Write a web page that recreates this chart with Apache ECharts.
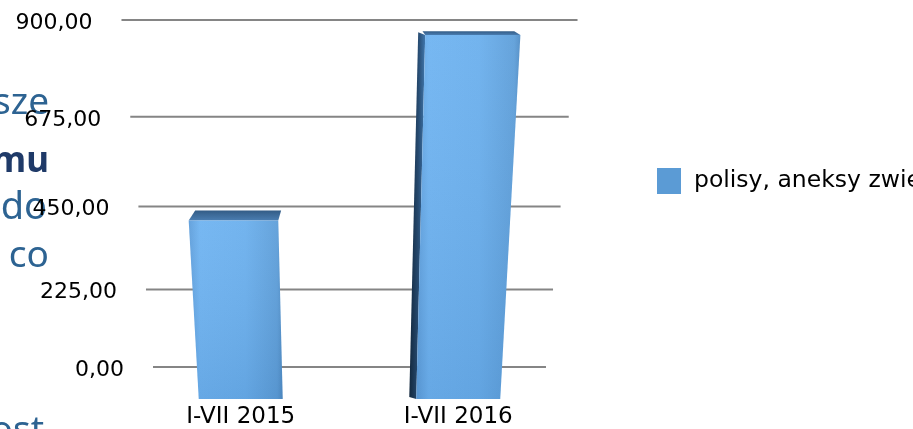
<!DOCTYPE html>
<html><head><meta charset="utf-8">
<script src="https://cdn.jsdelivr.net/npm/echarts@6/dist/echarts.min.js"></script>
<style>html,body{margin:0;padding:0;background:#fff}#c{width:913px;height:429px}</style>
</head><body><div id="c"></div>
<script>
// ---- data ----
const categories = ['I-VII 2015', 'I-VII 2016'];
const seriesName = 'polisy, aneksy zwiększające';
const values = [470, 885];
const yTicks = [0, 225, 450, 675, 900];
const yTickLabels = ['0,00', '225,00', '450,00', '675,00', '900,00'];
const slideFragments = ['sze', 'mu', 'do', 'co', 'ost'];

// ---- layout / style (not data) ----
const FONT = '"DejaVu Sans", sans-serif';
const FRAG_FONT = '"Noto Sans", sans-serif';
const fragmentLayout = [
  { x: 49, y: 103, size: 37, bold: false, color: '#2d6392' },
  { x: 49, y: 162, size: 35, bold: true, color: '#1f3a68' },
  { x: 47, y: 208, size: 38, bold: false, color: '#2d6392' },
  { x: 49, y: 256, size: 37, bold: false, color: '#2d6392' },
  { x: 44, y: 431, size: 37, bold: false, color: '#2d6392' }
];
const VPX = 349.5;
const WALL = { a: 0.1383, ax: 0.1383, xScale: 0.9034, yOffset: 0, hScale: 1 };
const FRONT = { a: 0.1526, ax: 0.12, xScale: 1, yOffset: 32, hScale: 1.0697 };
const TOP_DEPTH = 0.54, SIDE_DEPTH = 0.12, BAR_RATIO = 0.386;

function project(plane, xl, n, yB, H) {
  const d = 1 - plane.a * n;
  const dx = 1 - plane.ax * n;
  const g = (1 - plane.a) * n / d;
  return [VPX + (xl - VPX) * plane.xScale / dx, yB + plane.yOffset - H * plane.hScale * g];
}
function lerp(p, q, t) { return [p[0] + (q[0] - p[0]) * t, p[1] + (q[1] - p[1]) * t]; }

const chart = echarts.init(document.getElementById('c'), null, { renderer: 'canvas' });

const option = {
  animation: false,
  backgroundColor: '#ffffff',
  grid: { left: 132, right: 346, top: 20, bottom: 59 },
  legend: {
    data: [seriesName], left: 657, top: 168, padding: 0, icon: 'rect',
    itemWidth: 24, itemHeight: 26,
    textStyle: { fontSize: 23.5, fontFamily: FONT, color: '#000', padding: [0, 0, 0, 8] }
  },
  graphic: slideFragments.map((t, i) => ({
    type: 'text', z: 0, x: fragmentLayout[i].x, y: fragmentLayout[i].y,
    style: {
      text: t, align: 'right', verticalAlign: 'middle',
      fontSize: fragmentLayout[i].size, fontFamily: FRAG_FONT,
      fontWeight: fragmentLayout[i].bold ? 'bold' : 'normal',
      fill: fragmentLayout[i].color
    }
  })),
  xAxis: {
    type: 'category', data: categories,
    axisLine: { show: false }, axisTick: { show: false },
    axisLabel: { interval: 0, fontSize: 23, fontFamily: FONT, color: '#000', margin: 39 }
  },
  yAxis: { type: 'value', min: 0, max: 900, interval: 225, show: false },
  series: [
    {
      type: 'custom', name: 'grid', z: 1, clip: false, silent: true,
      data: yTicks.map(v => [0, v]),
      encode: { x: 0, y: 1 },
      renderItem(params, api) {
        const cs = params.coordSys;
        const yB = cs.y + cs.height, H = cs.height;
        const yl = api.coord([0, api.value(1)])[1];
        const n = (yB - yl) / H;
        const L = project(WALL, cs.x, n, yB, H);
        const R = project(WALL, cs.x + cs.width, n, yB, H);
        return {
          type: 'group', children: [
            { type: 'line', shape: { x1: L[0], y1: L[1], x2: R[0], y2: R[1] },
              style: { stroke: '#858585', lineWidth: 2 } },
            { type: 'text', x: L[0] - 29, y: L[1] + 3,
              style: { text: yTickLabels[params.dataIndex], align: 'right', verticalAlign: 'middle',
                       fontSize: 22, fontFamily: FONT, fill: '#000' } }
          ]
        };
      }
    },
    {
      type: 'custom', name: seriesName, z: 3, clip: false,
      itemStyle: { color: '#5b9bd5' },
      data: values.map((v, i) => [i, v]),
      encode: { x: 0, y: 1 },
      renderItem(params, api) {
        const cs = params.coordSys;
        const yB = cs.y + cs.height, H = cs.height;
        const i = api.value(0), v = api.value(1);
        const top = api.coord([i, v]);
        const base = api.coord([i, 0]);
        const bw = api.size([1, 0])[0] * BAR_RATIO;
        const xL = top[0] - bw / 2, xR = top[0] + bw / 2;
        const nT = (base[1] - top[1]) / H;
        const P = (pl, x, n) => project(pl, x, n, yB, H);
        const fLT = P(FRONT, xL, nT), fRT = P(FRONT, xR, nT);
        const fLB = P(FRONT, xL, 0), fRB = P(FRONT, xR, 0);
        const wLT = P(WALL, xL, nT), wRT = P(WALL, xR, nT);
        const wLB = P(WALL, xL, 0);
        const tL = lerp(wLT, fLT, TOP_DEPTH), tR = lerp(wRT, fRT, TOP_DEPTH);
        const children = [];
        if (fLB[0] > VPX) {
          const sT = [Math.min(lerp(wLT, fLT, SIDE_DEPTH)[0], fLT[0] - 7), tL[1] + 1];
          const sB = [Math.min(lerp(wLB, fLB, SIDE_DEPTH)[0], fLB[0] - 7), fLB[1] - 2];
          children.push({ type: 'polygon', shape: { points: [sB, sT, fLT, fLB] },
            style: { fill: new echarts.graphic.LinearGradient(0, 0, 1, 0, [
              { offset: 0, color: '#13293f' }, { offset: 0.55, color: '#26496e' }, { offset: 1, color: '#4077ad' }]) } });
        }
        children.push({ type: 'polygon', shape: { points: [tL, tR, fRT, fLT] },
          style: { fill: new echarts.graphic.LinearGradient(0, 0, 0, 1, [
            { offset: 0, color: '#335c86' }, { offset: 1, color: '#4a7db1' }]) } });
        children.push({ type: 'polygon', shape: { points: [fLT, fRT, fRB, fLB] },
          style: { fill: new echarts.graphic.LinearGradient(0, 0, 1, 0, [
            { offset: 0, color: '#5d9dda' }, { offset: 0.12, color: '#6eb3f1' },
            { offset: 0.6, color: '#6aafed' }, { offset: 0.94, color: '#5d9ed9' }, { offset: 1, color: '#4f8cc5' }]) } });
        children.push({ type: 'polygon', shape: { points: [fLT, fRT, fRB, fLB] },
          style: { fill: new echarts.graphic.LinearGradient(0, 0, 0, 1, [
            { offset: 0, color: 'rgba(255,255,255,0.06)' }, { offset: 1, color: 'rgba(30,70,120,0.10)' }]) } });
        return { type: 'group', children };
      }
    }
  ]
};
chart.setOption(option);
</script>
</body></html>
